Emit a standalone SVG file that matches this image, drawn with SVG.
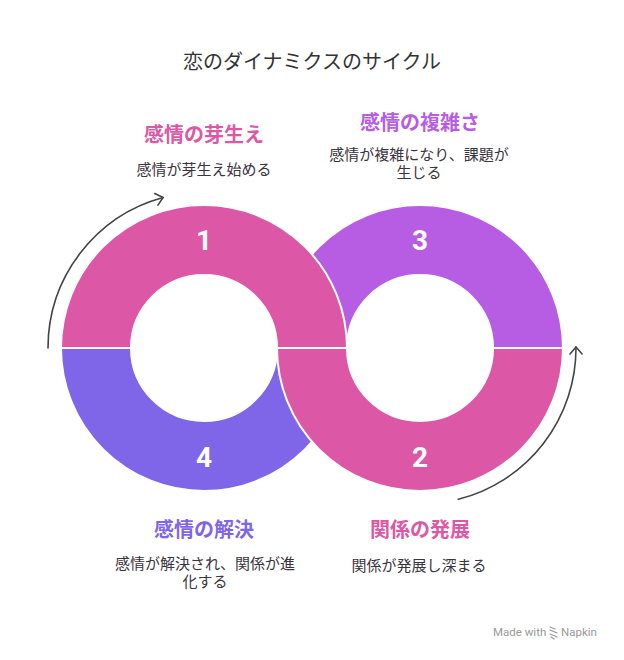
<svg xmlns="http://www.w3.org/2000/svg" width="624" height="660" viewBox="0 0 624 660">
<style>
.seg{stroke:#fff;stroke-width:2;stroke-linejoin:round}
.num{font-family:Roboto,"Liberation Sans",sans-serif;font-weight:bold;font-size:28px;fill:#fff;text-anchor:middle;dominant-baseline:central}
.ttl{font-family:"Noto Sans CJK JP",sans-serif;font-weight:bold;font-size:20px;text-anchor:middle;dominant-baseline:central}
.dsc{font-family:"Noto Sans CJK JP",sans-serif;font-size:15px;fill:#3a3340;text-anchor:middle;dominant-baseline:central}
.arc{fill:none;stroke:#444;stroke-width:1.6;stroke-linecap:round}
</style>
<defs>
<marker id="ah" markerUnits="userSpaceOnUse" markerWidth="20" markerHeight="20" viewBox="-10 -10 20 20" refX="0" refY="0" orient="auto">
<path d="M-7,-6 L0,0 L-7,6" fill="none" stroke="#444" stroke-width="1.6" stroke-linecap="round" stroke-linejoin="round"/>
</marker>
</defs>
<rect width="624" height="660" fill="#fff"/>
<text x="312" y="60" font-family="'Noto Sans CJK JP',sans-serif" font-size="20" fill="#333" text-anchor="middle" dominant-baseline="central">恋のダイナミクスのサイクル</text>

<g id="node3">
<path class="seg" fill="#B75DE3" d="M277 348 A143 143 0 0 1 563 348 L493 348 A73 73 0 0 0 347 348 Z"/>
<text class="num" x="420" y="240">3</text>
</g>
<g id="node4">
<path class="seg" fill="#7F66E8" d="M61 348 A143 143 0 0 0 347 348 L277 348 A73 73 0 0 1 131 348 Z"/>
<text class="num" x="204" y="457">4</text>
</g>
<g id="node1">
<path class="seg" fill="#DC58A6" d="M61 348 A143 143 0 0 1 347 348 L277 348 A73 73 0 0 0 131 348 Z"/>
<text class="num" x="204" y="240">1</text>
</g>
<g id="node2">
<path class="seg" fill="#DC58A6" d="M277 348 A143 143 0 0 0 563 348 L493 348 A73 73 0 0 1 347 348 Z"/>
<text class="num" x="420" y="457">2</text>
</g>

<g id="connectors">
<path class="arc" marker-end="url(#ah)" d="M48 348 A156 156 0 0 1 163.1 197.5"/>
<path class="arc" marker-end="url(#ah)" d="M458.3 499.3 A156 156 0 0 0 576 347"/>
</g>

<g id="label1">
<text class="ttl" x="204" y="133" fill="#DC58A6">感情の芽生え</text>
<text class="dsc" x="204" y="168">感情が芽生え始める</text>
</g>
<g id="label3">
<text class="ttl" x="420" y="121" fill="#B75DE3">感情の複雑さ</text>
<text class="dsc" x="419" y="153">感情が複雑になり、課題が</text>
<text class="dsc" x="419" y="171">生じる</text>
</g>
<g id="label4">
<text class="ttl" x="204" y="528" fill="#7F66E8">感情の解決</text>
<text class="dsc" x="205" y="562">感情が解決され、関係が進</text>
<text class="dsc" x="205" y="580">化する</text>
</g>
<g id="label2">
<text class="ttl" x="420" y="528" fill="#DC58A6">関係の発展</text>
<text class="dsc" x="419" y="564">関係が発展し深まる</text>
</g>

<g id="footer" fill="#999" font-family="Roboto,'Liberation Sans',sans-serif" font-size="11.5">
<text x="493" y="636">Made with</text>
<g stroke="#999" stroke-width="1.2" stroke-linecap="round">
<path d="M550 627 L555 629 M550 630 L557 633 M550 634 L557 637 M551 637 L554 639"/>
</g>
<text x="561" y="636">Napkin</text>
</g>
</svg>
